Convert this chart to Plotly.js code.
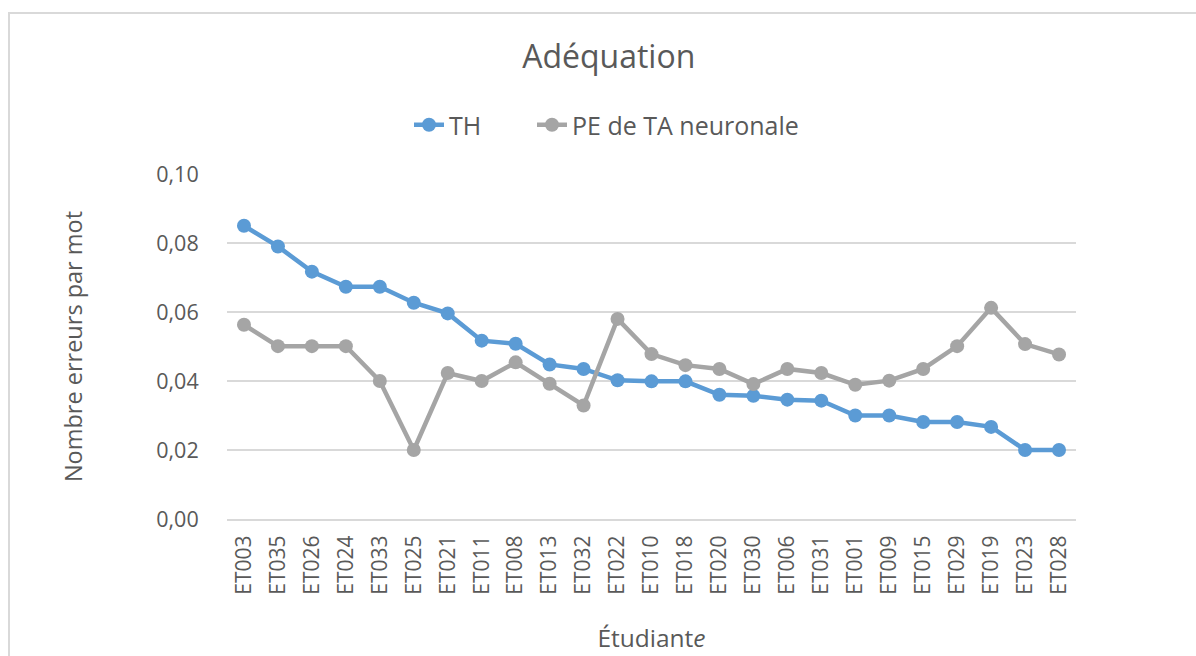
<!DOCTYPE html>
<html>
<head>
<meta charset="utf-8">
<script src="https://cdn.plot.ly/plotly-3.0.1.min.js"></script>
<style>
html,body{margin:0;padding:0;background:#fff;overflow:hidden;}
#frame{position:absolute;left:8px;top:12px;width:1200px;height:700px;border:2px solid #d9d9d9;box-sizing:border-box;}
#chart{position:absolute;left:0;top:0;width:1196px;height:656px;}
</style>
</head>
<body>
<div id="frame"></div>
<div id="chart"></div>
<script>
const students = ["ET003","ET035","ET026","ET024","ET033","ET025","ET021","ET011","ET008","ET013","ET032","ET022","ET010","ET018","ET020","ET030","ET006","ET031","ET001","ET009","ET015","ET029","ET019","ET023","ET028"];
const thValues = [0.085,0.079,0.0717,0.0673,0.0673,0.0627,0.0596,0.0517,0.0508,0.0448,0.0435,0.0402,0.0399,0.0399,0.0360,0.0357,0.0346,0.0343,0.0300,0.0300,0.0281,0.0281,0.0267,0.0200,0.0200];
const peValues = [0.0563,0.0501,0.0501,0.0501,0.0400,0.0200,0.0423,0.0400,0.0454,0.0392,0.0329,0.0580,0.0478,0.0446,0.0435,0.0391,0.0435,0.0423,0.0389,0.0401,0.0435,0.0501,0.0612,0.0507,0.0477];
const yTicks = [0,0.02,0.04,0.06,0.08,0.10];

const font = "'Open Sans', 'Noto Sans', sans-serif";
const textColor = "#595959";

const traces = [
  {x: students, y: thValues, name: "TH", type: "scatter", mode: "lines+markers", legend: "legend",
   line: {color: "#5B9BD5", width: 4.5}, marker: {color: "#5B9BD5", size: 14}},
  {x: students, y: peValues, name: "PE de TA neuronale", type: "scatter", mode: "lines+markers", legend: "legend2",
   line: {color: "#A5A5A5", width: 4.5}, marker: {color: "#A5A5A5", size: 14}}
];

const legendBase = {orientation: "h", xanchor: "left", y: 1.142, yanchor: "middle",
  font: {size: 25, color: textColor, family: font}, bgcolor: "rgba(0,0,0,0)"};

const layout = {
  width: 1196, height: 656,
  margin: {l: 227, r: 120, t: 174, b: 137},
  paper_bgcolor: "rgba(0,0,0,0)", plot_bgcolor: "rgba(0,0,0,0)",
  separators: ", ",
  font: {family: font, color: textColor, size: 20},
  title: {text: "Adéquation", font: {size: 32, color: textColor, family: font},
          x: 0.509, xref: "container", xanchor: "center", y: 1 - 57/656, yref: "container", yanchor: "middle"},
  showlegend: true,
  legend: Object.assign({}, legendBase, {x: (409 - 227) / 849}),
  legend2: Object.assign({}, legendBase, {x: (532 - 227) / 849}),
  xaxis: {
    type: "category", categoryarray: students, range: [-0.5, students.length - 0.5], autorange: false,
    tickangle: -90, tickfont: {size: 21, color: textColor},
    ticks: "outside", ticklen: 6, tickcolor: "rgba(0,0,0,0)",
    showgrid: false, showline: true, linecolor: "#d9d9d9", linewidth: 2, zeroline: false,
    title: {text: "Étudiant<i>e</i>", font: {size: 24.5, color: textColor}, standoff: 36},
    automargin: false
  },
  yaxis: {
    range: [0, 0.10], tickvals: yTicks, tickformat: ".2f",
    tickfont: {size: 21.5, color: textColor},
    ticks: "outside", ticklen: 23, tickcolor: "rgba(0,0,0,0)",
    showgrid: true, gridcolor: "#d9d9d9", gridwidth: 2, zeroline: false, showline: false,
    title: {text: "Nombre erreurs par mot", font: {size: 23.5, color: textColor}, standoff: 67},
    automargin: false
  }
};

Plotly.newPlot("chart", traces, layout, {displayModeBar: false, staticPlot: true});
</script>
</body>
</html>
